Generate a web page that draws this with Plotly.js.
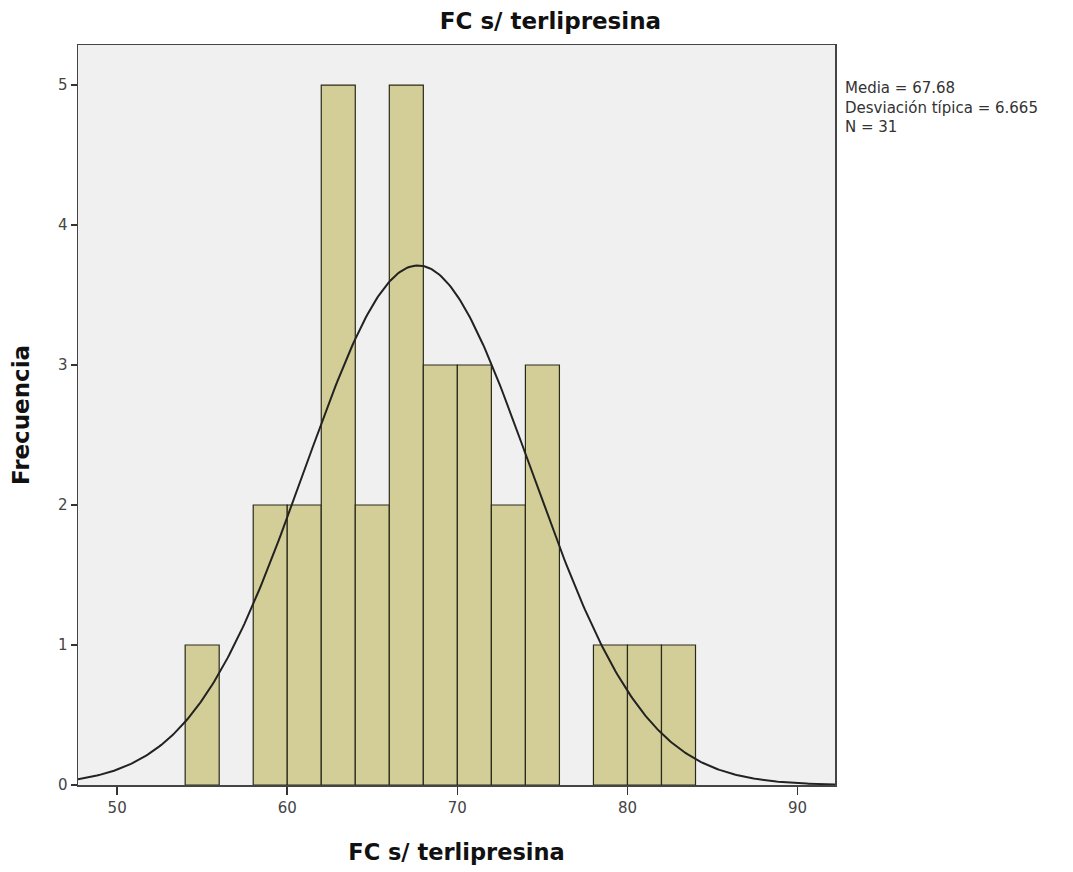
<!DOCTYPE html>
<html>
<head>
<meta charset="utf-8">
<script src="https://cdn.plot.ly/plotly-3.0.1.min.js"></script>
<style>html,body{margin:0;padding:0;background:#fff;}#chart{width:1073px;height:872px;}</style>
</head>
<body>
<div id="chart"></div>
<script>
// Histogram bins (left edges, width 2) and frequencies
const binStarts = [54, 58, 60, 62, 64, 66, 68, 70, 72, 74, 78, 80, 82];
const counts    = [1, 2, 2, 5, 2, 5, 3, 3, 2, 3, 1, 1, 1];
const binWidth = 2;
// Reported statistics
const mean = 67.68;
const sd = 6.665;
const n = 31;
const xTicks = [50, 60, 70, 80, 90];
const yTicks = [0, 1, 2, 3, 4, 5];
const statLines = ['Media = 67.68', 'Desviación típica = 6.665', 'N = 31'];

const barCenters = binStarts.map(b => b + binWidth / 2);

// Fitted normal curve from reported mean / sd, scaled to counts
const curveX = [];
const curveY = [];
for (let i = 0; i <= 400; i++) {
  const x = 47.7 + (92.2 - 47.7) * i / 400;
  curveX.push(x);
  const z = (x - mean) / sd;
  curveY.push(n * binWidth * Math.exp(-0.5 * z * z) / (sd * Math.sqrt(2 * Math.PI)));
}

const traces = [
  {
    type: 'bar', x: barCenters, y: counts, width: binWidth,
    marker: {color: '#d3ce98', line: {color: '#2a2a1a', width: 1.2}},
    hoverinfo: 'x+y', showlegend: false
  },
  {
    type: 'scatter', mode: 'lines', x: curveX, y: curveY,
    line: {color: '#222222', width: 2}, hoverinfo: 'skip', showlegend: false
  }
];

const FONT = 'DejaVu Sans, Liberation Sans, Arial, sans-serif';

const layout = {
  width: 1073, height: 872,
  margin: {l: 78, r: 238, t: 45, b: 87},
  paper_bgcolor: '#ffffff', plot_bgcolor: '#f0f0f0',
  font: {family: FONT, color: '#333'},
  title: {text: '<b>FC s/ terlipresina</b>', font: {family: FONT, size: 23, color: '#111'}, xref: 'container', x: 0.513, xanchor: 'center', y: 0.976, yanchor: 'middle'},
  bargap: 0,
  xaxis: {
    range: [47.7, 92.2], tickvals: xTicks, ticktext: xTicks.map(String),
    ticks: 'outside', ticklen: 8, tickwidth: 1.5, tickcolor: '#333',
    showgrid: false, zeroline: false, showline: true, linecolor: '#444', linewidth: 1.5, mirror: true,
    tickfont: {family: FONT, size: 15, color: '#444'},
    title: {text: '<b>FC s/ terlipresina</b>', font: {family: FONT, size: 22.5, color: '#111'}, standoff: 28}
  },
  yaxis: {
    range: [0, 5.286], tickvals: yTicks, ticktext: yTicks.map(String),
    ticks: 'outside', ticklen: 6, tickwidth: 1.5, tickcolor: '#333',
    showgrid: false, zeroline: false, showline: true, linecolor: '#444', linewidth: 1.5, mirror: true,
    tickfont: {family: FONT, size: 15, color: '#444'},
    title: {text: '<b>Frecuencia</b>', font: {family: FONT, size: 23, color: '#111'}, standoff: 22}
  },
  annotations: [{
    xref: 'paper', yref: 'paper', x: 1.010, y: 0.9149, xanchor: 'left', yanchor: 'middle', align: 'left',
    showarrow: false, text: statLines.join('<br>'), font: {family: FONT, size: 15, color: '#333'}
  }]
};

Plotly.newPlot('chart', traces, layout, {displayModeBar: false, staticPlot: true});
</script>
</body>
</html>
